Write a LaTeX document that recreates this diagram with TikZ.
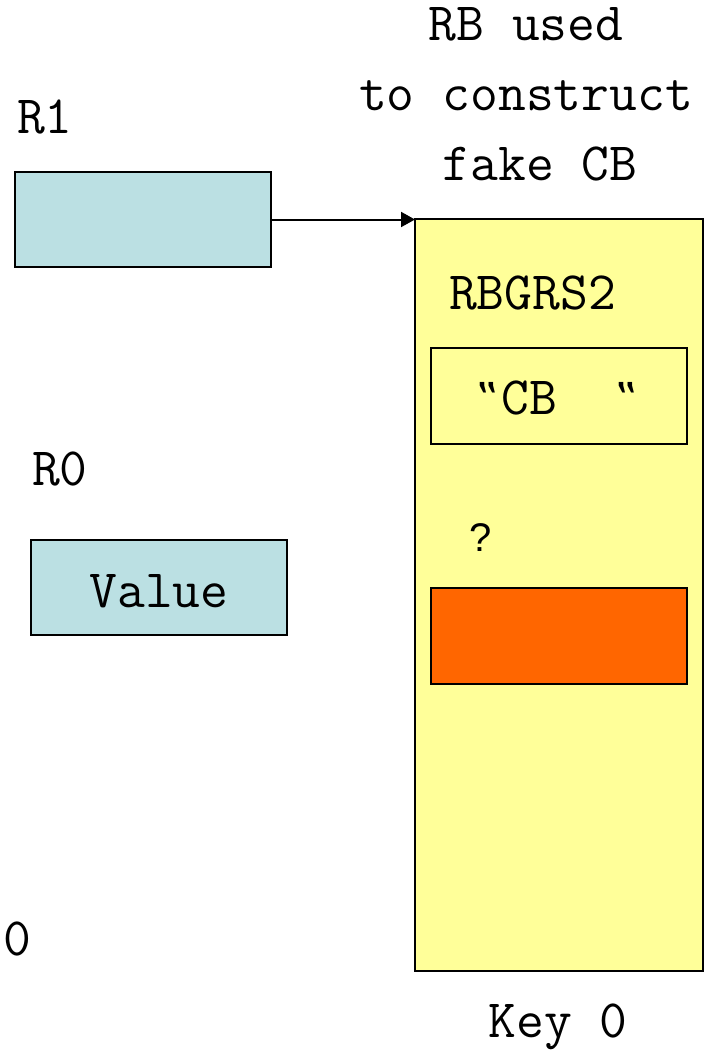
\documentclass[tikz,border=0pt]{standalone}
\usepackage{fontspec}
\newfontfamily\qsans{Liberation Sans}
\newfontfamily\qdejavu{DejaVu Sans}
\usetikzlibrary{arrows.meta}
\definecolor{regblue}{HTML}{BBE0E3}
\definecolor{rbyellow}{HTML}{FFFF99}
\definecolor{fieldorange}{HTML}{FF6600}
% reversed double quote set in one monospace cell
\newcommand\slantdq{\makebox[0.525em][c]{{\qdejavu\fontsize{44}{50}\selectfont ‟}}}
\begin{document}
\begin{tikzpicture}[x=1pt,y=-1pt,
  every node/.style={inner sep=0pt, outer sep=0pt},
  bigtext/.style={font=\ttfamily\fontsize{54}{70}\selectfont},
  regbox/.style={draw, line width=2pt, fill=regblue, minimum width=256pt, minimum height=95pt},
  fieldbox/.style={draw, line width=2pt, minimum width=256pt, minimum height=96pt},
  ptr/.style={line width=2pt, -{Triangle[length=14pt,width=15pt]}}]
  \useasboundingbox (0,0) rectangle (709,1050);

  % registers
  \node[regbox] (r1) at (142.5,219.5) {};
  \node[bigtext, anchor=base west] (r1lbl) at (17,133) {R1};
  \node[regbox] (r0) at (159,587.5) {};
  \node[bigtext, anchor=base west] (r0lbl) at (32,485) {R0};
  \node[bigtext, anchor=base] (val) at (159,607) {Value};
  \node[bigtext, anchor=base west] (zero) at (4,955) {0};

  % resource block
  \node[draw, line width=2pt, fill=rbyellow, minimum width=288pt, minimum height=752pt] (rb) at (559,595) {};
  \node[bigtext, anchor=base west] (grs) at (449,309) {RBGRS2};
  \node[fieldbox, fill=rbyellow] (cb) at (559,396) {};
  \node[bigtext, anchor=base] (cbtxt) at (557.5,414) {\slantdq CB\hphantom{xx}\slantdq};
  \node[font=\qsans\fontsize{40}{48}\selectfont, anchor=base west] (q) at (469,551) {?};
  \node[fieldbox, fill=fieldorange] (fld) at (559,636) {};
  \node[bigtext, anchor=base] (key) at (558,1037) {Key 0};

  % caption above the block (base anchor sits on the last line)
  \node[bigtext, align=center, anchor=base] (cap) at (526,180) {RB used\\to construct\\\hphantom{x}fake CB};

  % pointer from R1 into the block
  \draw[ptr] (r1.east) -- (r1.east -| rb.west);
\end{tikzpicture}
\end{document}
